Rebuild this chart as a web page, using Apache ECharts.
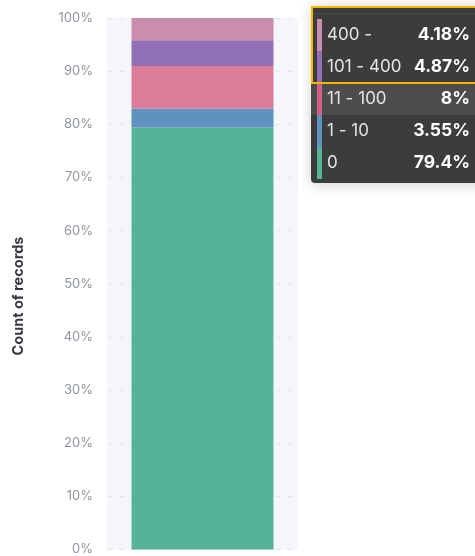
<!DOCTYPE html>
<html>
<head>
<meta charset="utf-8">
<script src="https://cdn.jsdelivr.net/npm/echarts@6/dist/echarts.min.js"></script>
<style>
  html, body { margin: 0; padding: 0; overflow: hidden; background: #ffffff; }
  #chart { width: 475px; height: 556px; }
</style>
</head>
<body>
<div id="chart"></div>
<script>
// Share of records per bucket (percent), listed bottom to top of the stack
const buckets = ['0', '1 - 10', '11 - 100', '101 - 400', '400 -'];
const shares = [79.4, 3.55, 8, 4.87, 4.18];
const barColors = ['#54b399', '#6092c0', '#dc7c99', '#9170b8', '#ca8dae'];
const swatchColors = ['#54b399', '#6092c0', '#d36086', '#9170b8', '#ca8eae'];
const yTicks = [0, 10, 20, 30, 40, 50, 60, 70, 80, 90, 100];
const category = [''];
const yTitle = 'Count of records';

const FONT = 'Inter, "Noto Sans", sans-serif';

const series = buckets.map((name, i) => ({
  name: name,
  type: 'bar',
  stack: 'total',
  barWidth: 142,
  data: [shares[i]],
  itemStyle: { color: barColors[i] },
  emphasis: { disabled: true }
}));

// Hover panel listing each bucket with its share, top bucket first
const rowH = 32;
const rowTop0 = 13;
const panelChildren = [
  {
    type: 'rect',
    shape: { x: 0, y: 0, width: 190, height: 177, r: 4 },
    style: { fill: '#3c3c3c', shadowBlur: 14, shadowColor: 'rgba(0,0,0,0.18)', shadowOffsetY: 2 }
  },
  {
    type: 'rect',
    shape: { x: 1, y: 7, width: 188, height: 1 },
    style: { fill: '#4a4a4a' }
  }
];
const order = buckets.map((_, i) => i).reverse();
order.forEach((idx, row) => {
  const top = rowTop0 + row * rowH;
  if (buckets[idx] === '11 - 100') {
    panelChildren.push({
      type: 'rect',
      shape: { x: 0, y: top, width: 190, height: rowH },
      style: { fill: '#4c4c4c' }
    });
  }
  panelChildren.push({
    type: 'rect',
    shape: { x: 6, y: top, width: 5, height: rowH },
    style: { fill: swatchColors[idx] }
  });
  panelChildren.push({
    type: 'text',
    x: 16,
    y: top + rowH / 2,
    style: {
      text: buckets[idx],
      fill: '#e4e4e4',
      font: '17px ' + FONT,
      verticalAlign: 'middle'
    }
  });
  panelChildren.push({
    type: 'text',
    x: 159,
    y: top + rowH / 2,
    style: {
      text: shares[idx] + '%',
      fill: '#ffffff',
      font: 'bold 17.5px ' + FONT,
      align: 'right',
      verticalAlign: 'middle'
    }
  });
});
panelChildren.push({
  type: 'rect',
  shape: { x: 1, y: 1, width: 190, height: 76 },
  style: { fill: 'none', stroke: '#f5b800', lineWidth: 2 }
});

const chart = echarts.init(document.getElementById('chart'), null, { renderer: 'canvas' });
chart.setOption({
  animation: false,
  grid: {
    left: 107, right: 177, top: 18, bottom: 6,
    show: true, backgroundColor: '#f5f6fa', borderWidth: 0
  },
  xAxis: {
    type: 'category',
    data: category,
    axisLine: { show: false },
    axisTick: { show: false },
    axisLabel: { show: false }
  },
  yAxis: {
    type: 'value',
    min: yTicks[0],
    max: yTicks[yTicks.length - 1],
    interval: 10,
    axisLine: { show: false },
    axisTick: { show: false },
    axisLabel: {
      margin: 14,
      fontFamily: FONT,
      fontSize: 13,
      color: '#8f96a1',
      formatter: '{value}%'
    },
    splitLine: { lineStyle: { color: '#e3e6ec', type: [6, 6] } }
  },
  series: series,
  graphic: [
    {
      type: 'text',
      x: 19,
      y: 296,
      rotation: Math.PI / 2,
      style: {
        text: yTitle,
        fill: '#343741',
        font: 'bold 14.5px ' + FONT,
        align: 'center',
        verticalAlign: 'middle'
      }
    },
    { type: 'group', x: 311, y: 6, children: panelChildren }
  ]
});
</script>
</body>
</html>
